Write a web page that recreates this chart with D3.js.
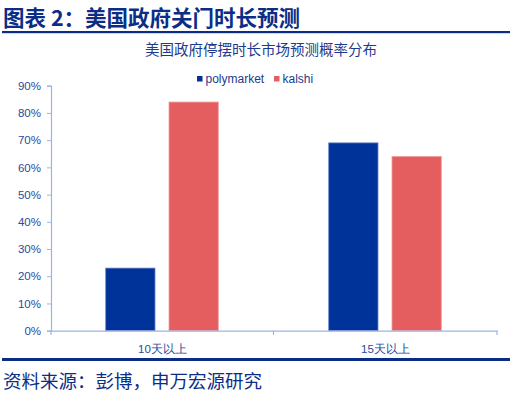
<!DOCTYPE html>
<html><head><meta charset="utf-8">
<script src="https://cdn.jsdelivr.net/npm/d3@7"></script>
<style>body{margin:0;background:#fff;}svg{display:block;font-family:"Noto Sans CJK SC","Liberation Sans",Arial,sans-serif;}</style>
</head><body><div id="c"></div>
<script>
const categories = ["10天以上", "15天以上"];
const seriesNames = ["polymarket", "kalshi"];
const polymarket = [0.23, 0.69];
const kalshi = [0.84, 0.64];
const yTicks = [0, 0.1, 0.2, 0.3, 0.4, 0.5, 0.6, 0.7, 0.8, 0.9];
const colors = ["#003399", "#e45e5f"];
const borders = ["#6f86cc", "#f0a0a0"];

const W = 521, H = 399;
const svg = d3.select("#c").append("svg").attr("width", W).attr("height", H);

svg.append("text").attr("x", 3).attr("y", 25.5).attr("font-size", 21.5).attr("font-weight", "bold")
  .attr("fill", "#0b2d86").text("图表 2：美国政府关门时长预测");
svg.append("rect").attr("x", 2).attr("y", 31).attr("width", 508).attr("height", 2.2).attr("fill", "#0b2d86");

svg.append("text").attr("x", 261).attr("y", 55).attr("text-anchor", "middle").attr("font-size", 14.5)
  .attr("fill", "#1c3a8e").text("美国政府停摆时长市场预测概率分布");

const x0 = d3.scaleBand().domain(categories).range([51, 497]).paddingInner(0).paddingOuter(0);
const x1 = d3.scaleBand().domain(seriesNames).range([54.7, 167.3]).paddingInner(0.221).paddingOuter(0);
const y = d3.scaleLinear().domain([0, 0.9]).range([330.7, 85.7]);

const g = svg.append("g");
const data = [polymarket, kalshi];
seriesNames.forEach((s, si) => {
  g.selectAll(".b" + si).data(categories).enter().append("rect")
    .attr("x", d => x0(d) + x1(s))
    .attr("y", (d, i) => y(data[si][i]))
    .attr("width", x1.bandwidth())
    .attr("height", (d, i) => y(0) - y(data[si][i]))
    .attr("fill", colors[si]).attr("stroke", borders[si]).attr("stroke-width", 0.8);
});

const axisColor = "#9db3e6";
const yAxis = svg.append("g").attr("transform", "translate(51,0)")
  .call(d3.axisLeft(y).tickValues(yTicks).tickFormat(d3.format(".0%")).tickSize(4).tickPadding(6));
yAxis.select(".domain").attr("stroke", axisColor).attr("stroke-width", 1.2);
yAxis.selectAll(".tick line").attr("stroke", axisColor);
yAxis.selectAll(".tick text").attr("fill", "#2b4a9c").attr("font-size", 11.5)
  .attr("font-family", "'Liberation Sans',Arial,sans-serif");

const xAxis = svg.append("g").attr("transform", "translate(0,330.7)")
  .call(d3.axisBottom(x0).tickSize(0).tickPadding(14));
xAxis.select(".domain").attr("stroke", axisColor).attr("stroke-width", 1.2);
xAxis.selectAll(".tick text").attr("fill", "#2b4a9c").attr("font-size", 11.5);
[51, 273.5, 497].forEach(px => {
  svg.append("line").attr("x1", px).attr("x2", px).attr("y1", 330.7).attr("y2", 335)
    .attr("stroke", axisColor).attr("stroke-width", 1.2);
});

const legX = [197, 274];
seriesNames.forEach((s, i) => {
  svg.append("rect").attr("x", legX[i]).attr("y", 76).attr("width", 5.5).attr("height", 5.5).attr("fill", colors[i]);
  svg.append("text").attr("x", legX[i] + 8.5).attr("y", 83).attr("font-size", 12)
    .attr("font-family", "'Liberation Sans',Arial,sans-serif").attr("fill", "#1c3a8e").text(s);
});

svg.append("rect").attr("x", 2).attr("y", 358).attr("width", 508).attr("height", 3).attr("fill", "#0b2d86");
svg.append("text").attr("x", 3).attr("y", 388).attr("font-size", 18.5)
  .attr("fill", "#0b2d86").text("资料来源：彭博，申万宏源研究");
</script></body></html>
